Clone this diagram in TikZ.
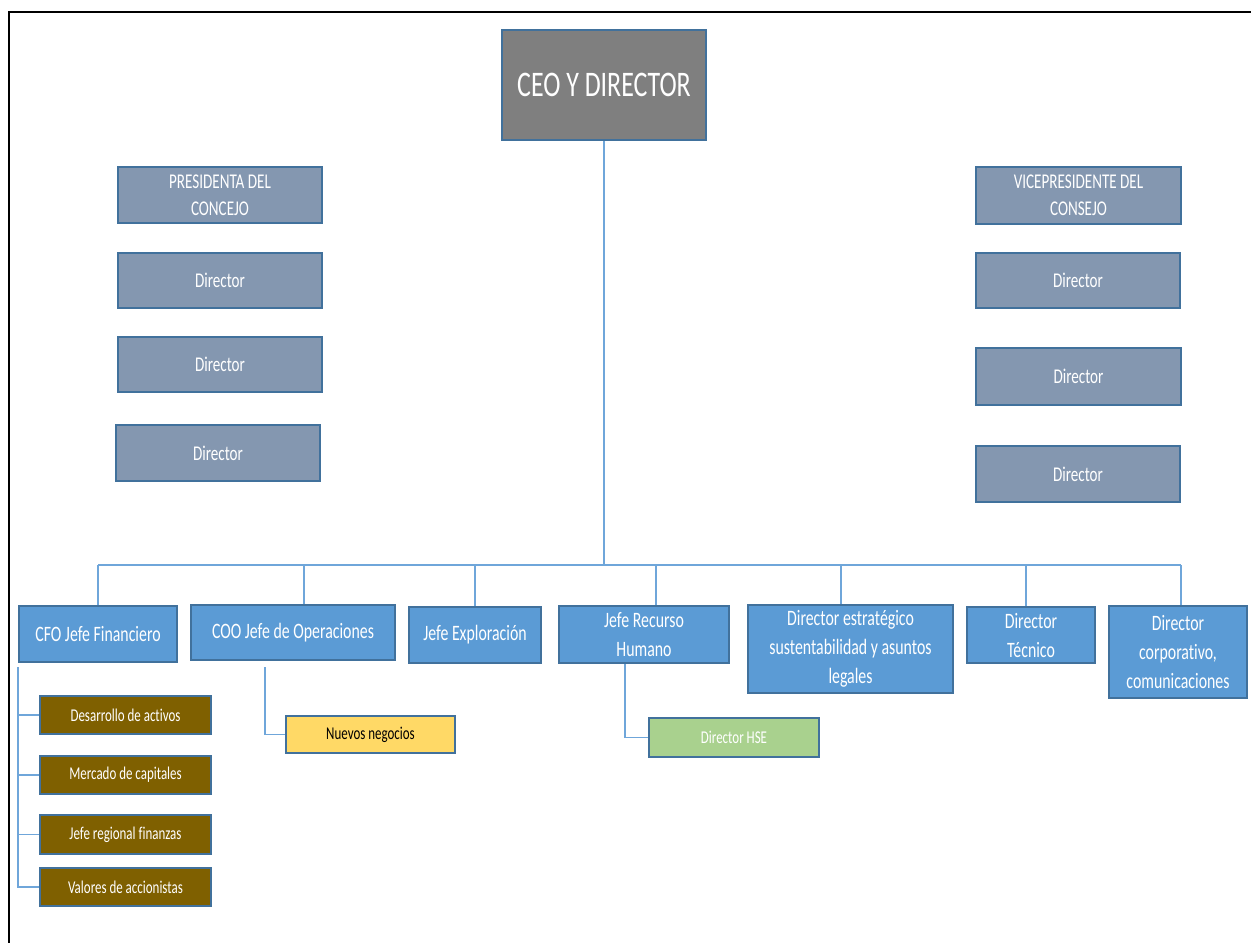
\documentclass[tikz,border=0pt]{standalone}
\usepackage{fontspec}
\setmainfont[FakeStretch=0.72, Ligatures={NoCommon}]{Carlito}
\newcommand\fszz[2]{\fontsize{#1}{#2}\selectfont}
\definecolor{bordblue}{HTML}{41719C}
\definecolor{ceogray}{HTML}{7F7F7F}
\definecolor{boardgray}{HTML}{8497B0}
\definecolor{mainblue}{HTML}{5B9BD5}
\definecolor{brownbox}{HTML}{7F6000}
\definecolor{yellowbox}{HTML}{FFD966}
\definecolor{greenbox}{HTML}{A9D18E}
\definecolor{linkblue}{HTML}{6FA6DA}
\tikzset{
  basebox/.style={draw=bordblue, line width=1.8pt, rectangle, inner sep=1pt, align=center, text=white},
  ceobox/.style={basebox, fill=ceogray, font=\fszz{36}{40}},
  boardbox/.style={basebox, fill=boardgray, font=\fszz{21}{27}},
  headbox/.style={basebox, fill=mainblue, font=\fszz{22}{29}},
  finbox/.style={basebox, fill=brownbox, font=\fszz{18}{22}, minimum width=171pt, minimum height=38pt},
  yelbox/.style={basebox, fill=yellowbox, text=black, font=\fszz{18}{22}},
  grnbox/.style={basebox, fill=greenbox, font=\fszz{18}{22}},
  link/.style={draw=linkblue, line width=1.3pt},
}
\begin{document}
\begin{tikzpicture}[x=1pt, y=-1pt]
\useasboundingbox (0,0) rectangle (1251,943);
\fill[white] (0,0) rectangle (1251,943);
\draw[black, line width=2.5pt] (1251,12) -- (9,12) -- (9,943);

% CEO
\node[ceobox, minimum width=204pt, minimum height=110pt] (ceo) at (604,85) {CEO Y DIRECTOR};

% board left
\node[boardbox, minimum width=204pt, minimum height=56pt] (pres) at (220,195) {PRESIDENTA DEL\\CONCEJO};
\node[boardbox, minimum width=204pt, minimum height=55pt] (ld1) at (220,280.5) {Director};
\node[boardbox, minimum width=204pt, minimum height=55pt] (ld2) at (220,364.5) {Director};
\node[boardbox, minimum width=204pt, minimum height=56pt] (ld3) at (218,453) {Director};

% board right
\node[boardbox, minimum width=205pt, minimum height=57pt] (vice) at (1078.5,195.5) {VICEPRESIDENTE DEL\\CONSEJO};
\node[boardbox, minimum width=204pt, minimum height=55pt] (rd1) at (1078,280.5) {Director};
\node[boardbox, minimum width=205pt, minimum height=57pt] (rd2) at (1078.5,376.5) {Director};
\node[boardbox, minimum width=204pt, minimum height=56pt] (rd3) at (1078,474) {Director};

% heads
\node[headbox, minimum width=158pt, minimum height=56pt] (cfo) at (98,634) {CFO Jefe Financiero};
\node[headbox, minimum width=204pt, minimum height=55pt] (coo) at (293,632.5) {COO Jefe de Operaciones};
\node[headbox, minimum width=132pt, minimum height=56pt] (expl) at (475,635) {Jefe Exploración};
\node[headbox, minimum width=170pt, minimum height=57pt] (rrhh) at (644,634.5) {Jefe Recurso\\Humano};
\node[headbox, minimum width=205pt, minimum height=88pt] (estr) at (850.5,649) {Director estratégico\\sustentabilidad y asuntos\\legales};
\node[headbox, minimum width=128pt, minimum height=56pt] (tec) at (1031,635) {Director\\Técnico};
\node[headbox, minimum width=138pt, minimum height=92pt] (corp) at (1178,652) {Director\\corporativo,\\comunicaciones};

% finance sub
\node[finbox] (d1) at (125.5,715) {Desarrollo de activos};
\node[finbox] (d2) at (125.5,775) {Mercado de capitales};
\node[finbox, minimum height=39pt] (d3) at (125.5,834.5) {Jefe regional finanzas};
\node[finbox] (d4) at (125.5,887) {Valores de accionistas};

\node[yelbox, minimum width=169pt, minimum height=37pt] (nuevos) at (370.5,734.5) {Nuevos negocios};
\node[grnbox, minimum width=170pt, minimum height=39pt] (hse) at (734,737.5) {Director HSE};

% connectors
\coordinate (bus) at (604,565);
\draw[link] (ceo.south) -- (ceo.south |- bus);
\draw[link] (cfo.north |- bus) -- ([xshift=3pt]corp.north |- bus);
\draw[link] (cfo.north) -- (cfo.north |- bus);
\draw[link] ([xshift=11pt]coo.north) -- ([xshift=11pt]coo.north |- bus);
\draw[link] (expl.north) -- (expl.north |- bus);
\draw[link] ([xshift=12pt]rrhh.north) -- ([xshift=12pt]rrhh.north |- bus);
\draw[link] ([xshift=-9.5pt]estr.north) -- ([xshift=-9.5pt]estr.north |- bus);
\draw[link] ([xshift=-5pt]tec.north) -- ([xshift=-5pt]tec.north |- bus);
\draw[link] ([xshift=3pt]corp.north) -- ([xshift=3pt]corp.north |- bus);

\coordinate (cfotrunk) at (18,667);
\draw[link] (cfotrunk) |- (d4.west);
\draw[link] (cfotrunk |- d1.west) -- (d1.west);
\draw[link] (cfotrunk |- d2.west) -- (d2.west);
\draw[link] (cfotrunk |- d3.west) -- (d3.west);

\coordinate (cootrunk) at (265,667);
\draw[link] (cootrunk) |- (nuevos.west);

\draw[link] ([xshift=-19pt]rrhh.south) |- (hse.west);
\end{tikzpicture}
\end{document}
